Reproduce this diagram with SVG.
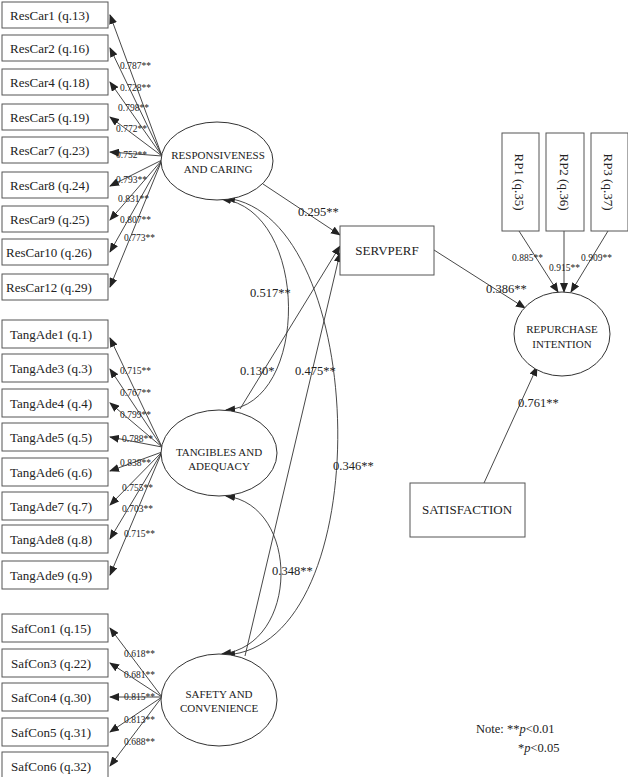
<svg xmlns="http://www.w3.org/2000/svg" width="628" height="777" viewBox="0 0 628 777" font-family="'Liberation Serif','Times New Roman','DejaVu Serif',serif">
<style>
rect{fill:#fff;stroke:#555;stroke-width:1}
ellipse{fill:#fff;stroke:#333;stroke-width:1}
text{font-family:'Liberation Serif','Times New Roman','DejaVu Serif',serif;fill:#222}
.b{font-size:13px}
.e{font-size:11px;text-anchor:middle}
.l{font-size:9.5px}
.p{font-size:12.5px}
#conn line,#conn path{stroke:#333;stroke-width:0.9;fill:none;marker-end:url(#a)}
#conn path{marker-start:url(#a)}
</style>
<defs><marker id="a" markerWidth="10" markerHeight="8" refX="9" refY="4" orient="auto-start-reverse" markerUnits="userSpaceOnUse"><path d="M0,0L10,4L0,8z" fill="#222"/></marker></defs>
<g id="conn">
<line x1="162" y1="156" x2="110" y2="15"/>
<line x1="162" y1="156" x2="110" y2="48"/>
<line x1="162" y1="156" x2="110" y2="82"/>
<line x1="162" y1="156" x2="110" y2="117"/>
<line x1="162" y1="156" x2="110" y2="152"/>
<line x1="162" y1="160" x2="110" y2="186"/>
<line x1="162" y1="160" x2="110" y2="220"/>
<line x1="162" y1="160" x2="110" y2="252"/>
<line x1="162" y1="160" x2="110" y2="287"/>
<line x1="162" y1="447" x2="110" y2="338"/>
<line x1="162" y1="447" x2="110" y2="369"/>
<line x1="162" y1="447" x2="110" y2="403"/>
<line x1="162" y1="447" x2="110" y2="437"/>
<line x1="162" y1="452" x2="110" y2="471"/>
<line x1="162" y1="452" x2="110" y2="505"/>
<line x1="162" y1="452" x2="110" y2="539"/>
<line x1="162" y1="452" x2="110" y2="575"/>
<line x1="162" y1="697" x2="110" y2="628"/>
<line x1="162" y1="697" x2="110" y2="663"/>
<line x1="162" y1="697" x2="110" y2="697"/>
<line x1="162" y1="697" x2="110" y2="732"/>
<line x1="162" y1="697" x2="110" y2="766"/>
<line x1="263" y1="184" x2="340" y2="235"/>
<line x1="240" y1="409" x2="340" y2="246"/>
<line x1="245" y1="656" x2="340" y2="253"/>
<line x1="434" y1="250" x2="525" y2="308"/>
<line x1="519" y1="231" x2="558" y2="292"/>
<line x1="564" y1="231" x2="564" y2="292"/>
<line x1="608" y1="231" x2="571" y2="292"/>
<line x1="484" y1="483" x2="537" y2="367"/>
<path d="M226,410 C310,405 310,210 222,199"/>
<path d="M226,655 C380,645 370,215 226,198"/>
<path d="M222,654 C300,645 300,505 226,496"/>
</g>
<g id="n-rc1"><rect x="2" y="2" width="106" height="26"/><text class="b" x="10" y="20">ResCar1 (q.13)</text></g>
<g id="n-rc2"><rect x="2" y="35" width="106" height="26"/><text class="b" x="10" y="53">ResCar2 (q.16)</text></g>
<g id="n-rc4"><rect x="2" y="69" width="106" height="26"/><text class="b" x="10" y="87">ResCar4 (q.18)</text></g>
<g id="n-rc5"><rect x="2" y="104" width="106" height="26"/><text class="b" x="10" y="122">ResCar5 (q.19)</text></g>
<g id="n-rc7"><rect x="2" y="137" width="106" height="26"/><text class="b" x="10" y="155">ResCar7 (q.23)</text></g>
<g id="n-rc8"><rect x="2" y="172" width="106" height="26"/><text class="b" x="10" y="190">ResCar8 (q.24)</text></g>
<g id="n-rc9"><rect x="2" y="206" width="106" height="26"/><text class="b" x="10" y="224">ResCar9 (q.25)</text></g>
<g id="n-rc10"><rect x="2" y="239" width="106" height="26"/><text class="b" x="6" y="257">ResCar10 (q.26)</text></g>
<g id="n-rc12"><rect x="2" y="274" width="106" height="26"/><text class="b" x="6" y="292">ResCar12 (q.29)</text></g>
<g id="n-ta1"><rect x="2" y="320" width="106" height="28"/><text class="b" x="10" y="339">TangAde1 (q.1)</text></g>
<g id="n-ta3"><rect x="2" y="354" width="106" height="28"/><text class="b" x="10" y="373">TangAde3 (q.3)</text></g>
<g id="n-ta4"><rect x="2" y="389" width="106" height="28"/><text class="b" x="10" y="408">TangAde4 (q.4)</text></g>
<g id="n-ta5"><rect x="2" y="423" width="106" height="28"/><text class="b" x="10" y="442">TangAde5 (q.5)</text></g>
<g id="n-ta6"><rect x="2" y="458" width="106" height="28"/><text class="b" x="10" y="477">TangAde6 (q.6)</text></g>
<g id="n-ta7"><rect x="2" y="492" width="106" height="28"/><text class="b" x="10" y="511">TangAde7 (q.7)</text></g>
<g id="n-ta8"><rect x="2" y="525" width="106" height="28"/><text class="b" x="10" y="544">TangAde8 (q.8)</text></g>
<g id="n-ta9"><rect x="2" y="561" width="106" height="28"/><text class="b" x="10" y="580">TangAde9 (q.9)</text></g>
<g id="n-sc1"><rect x="2" y="614" width="106" height="28"/><text class="b" x="11" y="633">SafCon1 (q.15)</text></g>
<g id="n-sc3"><rect x="2" y="649" width="106" height="28"/><text class="b" x="11" y="668">SafCon3 (q.22)</text></g>
<g id="n-sc4"><rect x="2" y="683" width="106" height="28"/><text class="b" x="11" y="702">SafCon4 (q.30)</text></g>
<g id="n-sc5"><rect x="2" y="718" width="106" height="28"/><text class="b" x="11" y="737">SafCon5 (q.31)</text></g>
<g id="n-sc6"><rect x="2" y="752" width="106" height="28"/><text class="b" x="11" y="771">SafCon6 (q.32)</text></g>
<g id="n-resp"><ellipse cx="217" cy="161" rx="56" ry="39"/><text class="e" x="218" y="159">RESPONSIVENESS</text><text class="e" x="218" y="173">AND CARING</text></g>
<g id="n-tang"><ellipse cx="219" cy="453" rx="58" ry="43"/><text class="e" x="219" y="456">TANGIBLES AND</text><text class="e" x="219" y="470">ADEQUACY</text></g>
<g id="n-safe"><ellipse cx="219" cy="700" rx="58" ry="46"/><text class="e" x="219" y="698">SAFETY AND</text><text class="e" x="219" y="712">CONVENIENCE</text></g>
<g id="n-servperf"><rect x="340" y="226" width="94" height="49"/><text class="b" x="387" y="255" text-anchor="middle">SERVPERF</text></g>
<g id="n-rp1"><rect x="502" y="133" width="37" height="98"/><text class="b" transform="translate(515,182) rotate(90)" text-anchor="middle">RP1 (q.35)</text></g>
<g id="n-rp2"><rect x="546" y="133" width="38" height="98"/><text class="b" transform="translate(560,182) rotate(90)" text-anchor="middle">RP2 (q.36)</text></g>
<g id="n-rp3"><rect x="591" y="133" width="37" height="98"/><text class="b" transform="translate(604,182) rotate(90)" text-anchor="middle">RP3 (q.37)</text></g>
<g id="n-rep"><ellipse cx="562" cy="334" rx="48" ry="42"/><text class="e" x="562" y="333">REPURCHASE</text><text class="e" x="562" y="348">INTENTION</text></g>
<g id="n-sat"><rect x="410" y="483" width="115" height="54"/><text class="b" x="467" y="514" text-anchor="middle">SATISFACTION</text></g>
<g id="labels">
<text class="l" x="120" y="69">0.787**</text><text class="l" x="120" y="91">0.728**</text><text class="l" x="118" y="111">0.798**</text><text class="l" x="116" y="132">0.772**</text><text class="l" x="116" y="158">0.752**</text><text class="l" x="116" y="183">0.793**</text><text class="l" x="118" y="202">0.831**</text><text class="l" x="120" y="223">0.807**</text><text class="l" x="124" y="241">0.773**</text>
<text class="l" x="120" y="374">0.715**</text><text class="l" x="120" y="396">0.767**</text><text class="l" x="120" y="418">0.799**</text><text class="l" x="122" y="442">0.788**</text><text class="l" x="120" y="466">0.838**</text><text class="l" x="122" y="491">0.755**</text><text class="l" x="122" y="512">0.703**</text><text class="l" x="124" y="537">0.715**</text>
<text class="l" x="124" y="657">0.618**</text><text class="l" x="124" y="678">0.681**</text><text class="l" x="124" y="700">0.815**</text><text class="l" x="124" y="723">0.813**</text><text class="l" x="124" y="745">0.688**</text>
<text class="l" x="512" y="261">0.885**</text><text class="l" x="549" y="271">0.915**</text><text class="l" x="581" y="261">0.909**</text>
<text class="p" x="298" y="216">0.295**</text><text class="p" x="250" y="297">0.517**</text><text class="p" x="240" y="375">0.130*</text><text class="p" x="295" y="375">0.475**</text><text class="p" x="333" y="470">0.346**</text><text class="p" x="272" y="575">0.348**</text>
<text class="p" x="486" y="293">0.386**</text><text class="p" x="518" y="407">0.761**</text>
<text class="p" x="476" y="733">Note: **<tspan font-style="italic">p</tspan>&lt;0.01</text><text class="p" x="518" y="752">*<tspan font-style="italic">p</tspan>&lt;0.05</text>
</g>
</svg>
